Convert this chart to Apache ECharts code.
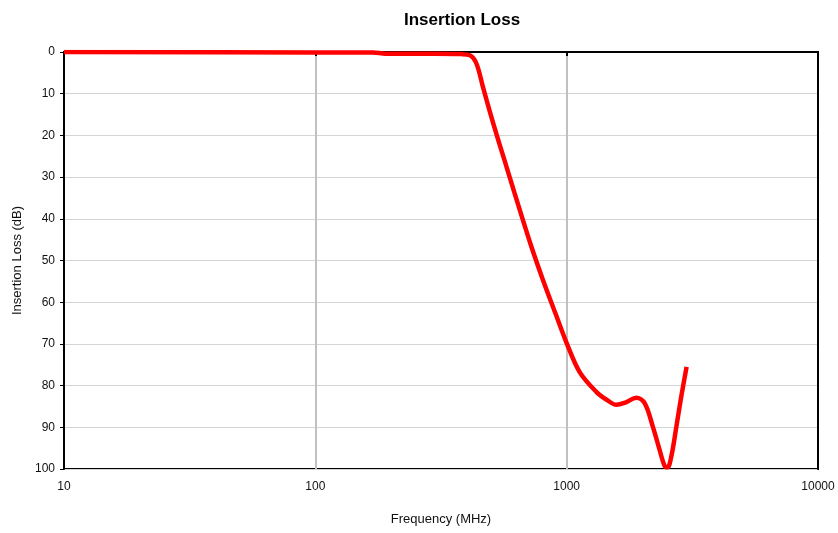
<!DOCTYPE html>
<html>
<head>
    <meta charset="UTF-8">
    <title>Insertion Loss</title>
    <script type="text/javascript" src="https://cdn.jsdelivr.net/npm/echarts@6/dist/echarts.min.js"></script>
    <style type="text/css">
        body { margin: 0; background: #fff; }
        #chart { width: 838px; height: 533px; }
    </style>
</head>
<body>
<div id="chart"></div>
<script type="text/javascript">
    // frequency in MHz, insertion loss in dB
    var freqs = [10, 100, 170, 190, 300, 380, 412, 437, 464, 493, 525, 566, 620, 723, 804, 909, 1000, 1125, 1312, 1450, 1578, 1720, 1892, 2043, 2203, 2343, 2455, 2520, 2608, 2731, 2858, 3000];
    var loss  = [0, 0.1, 0.1, 0.4, 0.4, 0.5, 0.8, 2.7, 8.3, 14.0, 19.6, 26.0, 33.8, 46.6, 54.6, 63.2, 69.8, 76.7, 81.5, 83.5, 84.6, 84, 82.9, 84.2, 89.9, 95.4, 99.3, 99.6, 97, 89.9, 82.6, 75.5];
    var xTicks = [10, 100, 1000, 10000];

    var points = [];
    for (var i = 0; i < freqs.length; i++) {
        points.push([freqs[i], loss[i]]);
    }

    var chart = echarts.init(document.getElementById('chart'));
    var txt = '#111';
    var font = 'Liberation Sans, Arial, sans-serif';

    chart.setOption({
        animation: false,
        title: {
            text: 'Insertion Loss',
            left: 457,
            textAlign: 'center',
            top: 7,
            textStyle: { fontFamily: font, fontSize: 17, fontWeight: 'bold', color: '#000' }
        },
        grid: {
            left: 64, right: 20, top: 52, bottom: 64,
            show: true, borderColor: '#000', borderWidth: 2
        },
        xAxis: {
            type: 'log',
            logBase: 10,
            min: xTicks[0],
            max: xTicks[xTicks.length - 1],
            name: 'Frequency (MHz)',
            nameLocation: 'middle',
            nameGap: 44,
            nameTextStyle: { fontFamily: font, fontSize: 13, color: txt },
            axisLine: { lineStyle: { color: '#000', width: 2 } },
            axisTick: { show: true, inside: false, length: 4, lineStyle: { color: '#000', width: 2 } },
            axisLabel: {
                fontFamily: font, fontSize: 12, color: txt, margin: 12,
                formatter: function (v) { return String(Math.round(v)); }
            },
            minorTick: { show: false },
            splitLine: { show: true, lineStyle: { color: '#c0c0c0', width: 2 } }
        },
        yAxis: [{
            type: 'value',
            inverse: true,
            min: 0,
            max: 100,
            interval: 10,
            name: 'Insertion Loss (dB)',
            nameLocation: 'middle',
            nameGap: 40,
            nameRotate: 90,
            nameTextStyle: { fontFamily: font, fontSize: 13, color: txt },
            axisLine: { lineStyle: { color: '#000', width: 2 } },
            axisTick: { show: true, inside: false, length: 4, lineStyle: { color: '#000', width: 1 } },
            axisLabel: { fontFamily: font, fontSize: 12, color: txt, margin: 9 },
            splitLine: { show: true, lineStyle: { color: '#d4d4d4', width: 1 } }
        }, {
            // right border of the plot area
            type: 'value',
            position: 'right',
            inverse: true,
            min: 0,
            max: 100,
            interval: 10,
            axisLine: { show: true, lineStyle: { color: '#000', width: 2 } },
            axisTick: { show: false },
            axisLabel: { show: false },
            splitLine: { show: false }
        }],
        series: [{
            type: 'line',
            data: points,
            smooth: 0.35,
            showSymbol: false,
            lineStyle: { color: '#ff0000', width: 4.5 },
            z: 5
        }]
    });
</script>
</body>
</html>
